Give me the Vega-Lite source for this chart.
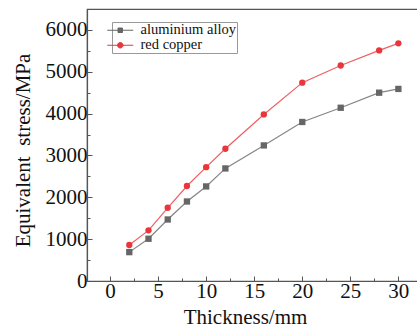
{
  "$schema": "https://vega.github.io/schema/vega-lite/v6.json",
  "autosize": "none",
  "width": 335,
  "height": 272,
  "padding": {"left": 87, "top": 9, "right": 0, "bottom": 52},
  "background": "white",
  "config": {
    "font": "Liberation Serif",
    "view": {"stroke": "#555", "strokeWidth": 1.2},
    "axis": {"domainColor": "#555", "tickColor": "#555", "labelColor": "#111", "titleColor": "#111", "labelFont": "Liberation Serif", "titleFont": "Liberation Serif", "labelFontSize": 21, "titleFontSize": 21, "titleFontWeight": "normal", "grid": false, "domainWidth": 1.2},
    "legend": {"labelFont": "Liberation Serif", "labelFontSize": 14.5, "labelColor": "#111"}
  },
  "data": {"values": [
    {"t": 2, "s": 690, "m": "aluminium alloy"},
    {"t": 4, "s": 1010, "m": "aluminium alloy"},
    {"t": 6, "s": 1470, "m": "aluminium alloy"},
    {"t": 8, "s": 1900, "m": "aluminium alloy"},
    {"t": 10, "s": 2260, "m": "aluminium alloy"},
    {"t": 12, "s": 2690, "m": "aluminium alloy"},
    {"t": 16, "s": 3240, "m": "aluminium alloy"},
    {"t": 20, "s": 3800, "m": "aluminium alloy"},
    {"t": 24, "s": 4140, "m": "aluminium alloy"},
    {"t": 28, "s": 4500, "m": "aluminium alloy"},
    {"t": 30, "s": 4590, "m": "aluminium alloy"},
    {"t": 2, "s": 860, "m": "red copper"},
    {"t": 4, "s": 1210, "m": "red copper"},
    {"t": 6, "s": 1750, "m": "red copper"},
    {"t": 8, "s": 2270, "m": "red copper"},
    {"t": 10, "s": 2720, "m": "red copper"},
    {"t": 12, "s": 3160, "m": "red copper"},
    {"t": 16, "s": 3980, "m": "red copper"},
    {"t": 20, "s": 4740, "m": "red copper"},
    {"t": 24, "s": 5150, "m": "red copper"},
    {"t": 28, "s": 5510, "m": "red copper"},
    {"t": 30, "s": 5680, "m": "red copper"}
  ]},
  "encoding": {
    "x": {"field": "t", "type": "quantitative", "title": "Thickness/mm",
      "scale": {"domain": [-2.4, 32.46], "nice": false, "zero": false},
      "axis": {"values": [0, 2.5, 5, 7.5, 10, 12.5, 15, 17.5, 20, 22.5, 25, 27.5, 30],
        "labelExpr": "datum.value % 5 === 0 ? datum.label : ''",
        "tickSize": {"condition": {"test": "datum.value % 5 === 0", "value": -5}, "value": -3},
        "labelPadding": 4, "titlePadding": 5, "titleX": 158, "labelFlush": false}},
    "y": {"field": "s", "type": "quantitative", "title": "Equivalent\u00a0\u00a0stress/MPa",
      "scale": {"domain": [0, 6500], "nice": false},
      "axis": {"values": [0, 500, 1000, 1500, 2000, 2500, 3000, 3500, 4000, 4500, 5000, 5500, 6000, 6500],
        "labelExpr": "datum.value % 1000 === 0 ? datum.label : ''",
        "format": "d",
        "tickSize": {"condition": {"test": "datum.value % 1000 === 0", "value": -5}, "value": -3},
        "labelPadding": 5, "titlePadding": 12, "titleY": 141, "labelFlush": false}},
    "color": {"field": "m", "type": "nominal",
      "scale": {"domain": ["aluminium alloy", "red copper"], "range": ["#666666", "#e8373c"]},
      "legend": {"title": null, "orient": "none", "legendX": 25, "legendY": 13,
        "strokeColor": "#999", "fillColor": "white", "padding": 1,
        "labelFont": "Liberation Serif", "labelFontSize": 14.5, "labelColor": "#111",
        "labelExpr": "datum.label + '\u00a0\u00a0\u00a0'",
        "symbolSize": 100, "labelOffset": 13, "rowPadding": 0, "symbolStrokeWidth": 1, "symbolOpacity": 1}}
  },
  "layer": [
    {"mark": {"type": "line", "strokeWidth": 1.2, "opacity": 0.8}},
    {"mark": {"type": "point", "filled": true, "opacity": 1, "size": 40},
     "encoding": {
       "shape": {"condition": {"test": "datum.m === 'red copper'", "value": "circle"}, "value": "square"}
     }},
    {"transform": [{"filter": "datum.t < 0"}],
     "mark": {"type": "point", "filled": true, "opacity": 1, "size": 40},
     "encoding": {
       "shape": {"field": "m", "type": "nominal",
         "scale": {"domain": ["aluminium alloy", "red copper"], "range": ["M-2.6,0H2.6M-0.45,-0.45H0.45V0.45H-0.45Z", "M-2.6,0H2.6M0.55,0A0.55,0.55 0 1,1 -0.55,0A0.55,0.55 0 1,1 0.55,0"]}},
       "stroke": {"field": "m", "type": "nominal",
         "scale": {"domain": ["aluminium alloy", "red copper"], "range": ["#7a7a7a", "#e8373c"]}}
     }}
  ]
}
